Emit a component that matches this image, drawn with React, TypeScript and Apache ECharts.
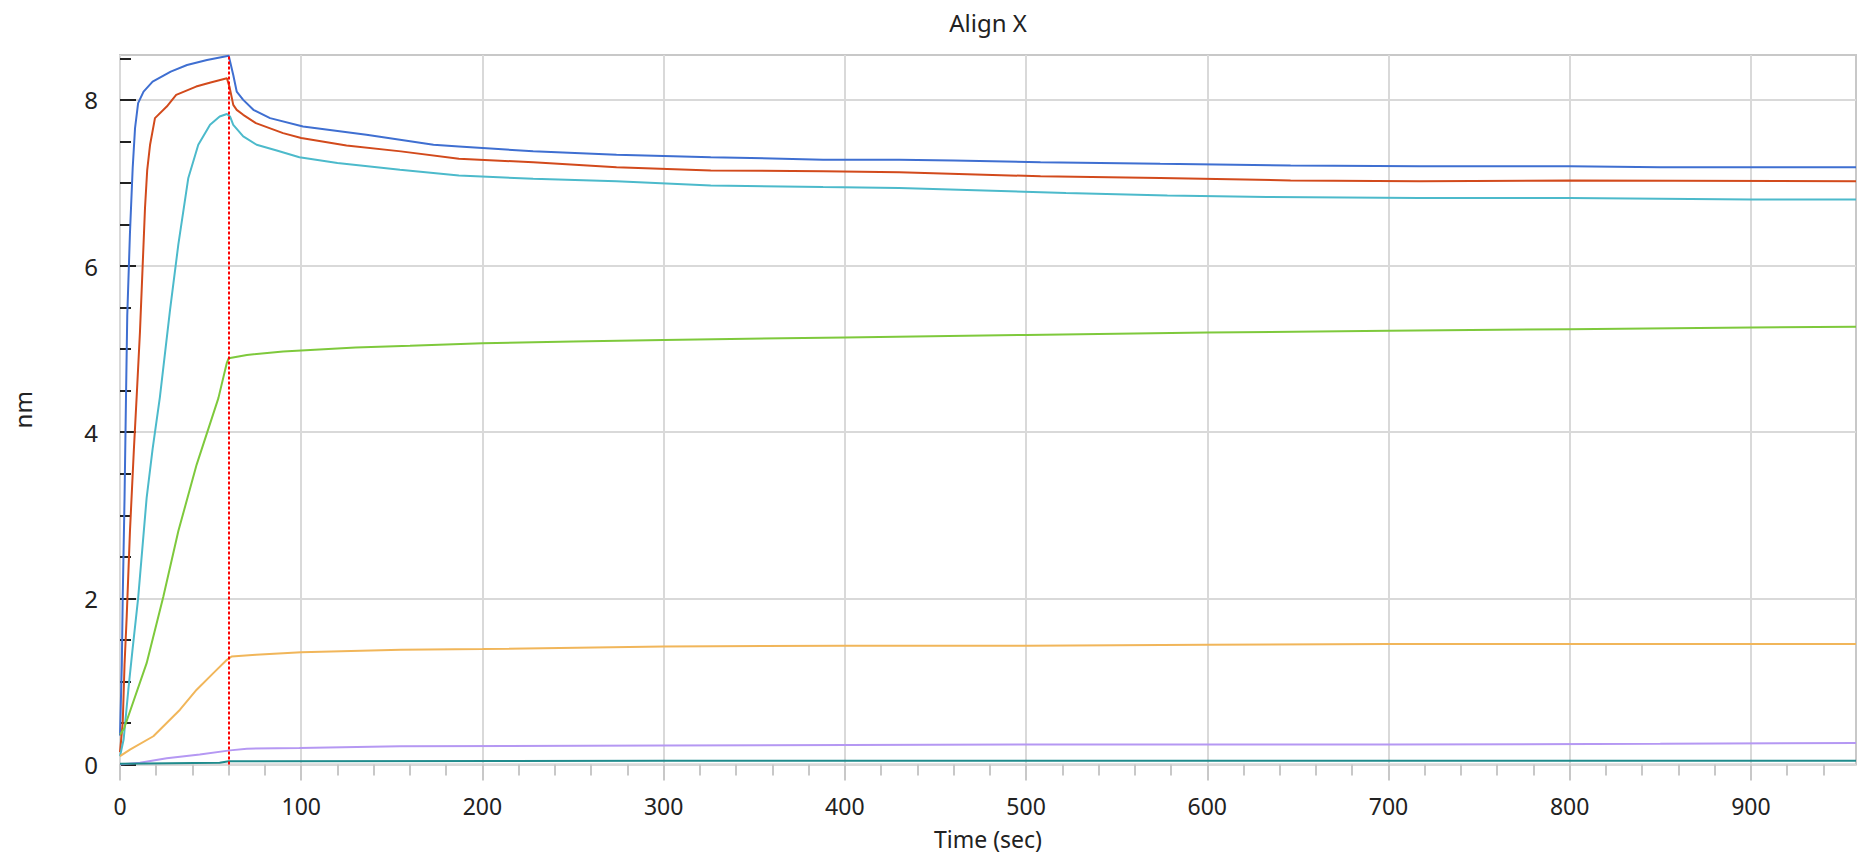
import React, { useEffect, useRef } from "react";
import * as echarts from "echarts";

const chartTitle = "Align X";
const xAxisName = "Time (sec)";
const yAxisName = "nm";
const stepTime = 60;

const xTicks = [0, 100, 200, 300, 400, 500, 600, 700, 800, 900];
const xMinorTicks = [0, 20, 40, 60, 80, 100, 120, 140, 160, 180, 200, 220, 240, 260, 280, 300, 320, 340, 360, 380, 400, 420, 440, 460, 480, 500, 520, 540, 560, 580, 600, 620, 640, 660, 680, 700, 720, 740, 760, 780, 800, 820, 840, 860, 880, 900, 920, 940];
const yTicks = [0, 2, 4, 6, 8];
const yMinorTicks = [0, 0.5, 1, 1.5, 2, 2.5, 3, 3.5, 4, 4.5, 5, 5.5, 6, 6.5, 7, 7.5, 8, 8.5];

const seriesNames = ["S1", "S2", "S3", "S4", "S5", "S6", "S7"];
const seriesColors = ["#3f6fd1", "#d24a1c", "#4cbacb", "#7ec93c", "#f1b65a", "#b598f3", "#1f8b8c"];

const blueData: [number, number][] = [
  [0, 0.35], [1, 1.2], [1.5, 2.0], [2.5, 3.2], [3.3, 4.4], [4, 5.4], [5.5, 6.4], [7, 7.18], [8.3, 7.66], [10, 7.96], [13, 8.1], [18, 8.22], [28, 8.34], [37, 8.42], [48, 8.48], [60, 8.53],
  [62.5, 8.3], [64.4, 8.1], [68, 8.0], [73.6, 7.88], [82.8, 7.78], [101, 7.68], [136, 7.58], [173, 7.46], [187, 7.44], [228, 7.38], [274, 7.34], [326, 7.31], [388, 7.28], [430, 7.28], [460, 7.27], [508, 7.25], [574, 7.23], [646, 7.21], [717, 7.2], [800, 7.2], [850, 7.19], [958, 7.19],
];
const redData: [number, number][] = [
  [0, 0.15], [1.5, 0.5], [2.5, 1.2], [3.7, 1.78], [5.5, 2.81], [7.7, 3.81], [9.2, 4.43], [11, 5.2], [12.5, 6.0], [13.8, 6.7], [15, 7.15], [16.6, 7.46], [19.3, 7.78], [25.8, 7.92], [31, 8.06], [42, 8.16], [50, 8.21], [59, 8.26],
  [60.5, 8.15], [62.5, 7.94], [64.4, 7.88], [68, 7.82], [75, 7.72], [90, 7.6], [100, 7.54], [125, 7.45], [155, 7.38], [187, 7.29], [228, 7.25], [274, 7.19], [326, 7.15], [388, 7.14], [430, 7.13], [508, 7.08], [574, 7.06], [646, 7.03], [717, 7.02], [800, 7.03], [958, 7.02],
];
const cyanData: [number, number][] = [
  [0, 0.1], [2, 0.3], [4.6, 0.9], [7, 1.4], [10, 2.0], [14.7, 3.21], [18, 3.8], [22, 4.42], [27.6, 5.47], [32.2, 6.26], [37.7, 7.06], [43.2, 7.46], [49.7, 7.7], [55, 7.8], [59, 7.83],
  [60.7, 7.8], [62.5, 7.7], [68, 7.56], [75.4, 7.46], [86.5, 7.39], [99, 7.31], [120, 7.24], [154.5, 7.16], [187, 7.09], [228, 7.05], [274, 7.02], [326, 6.97], [388, 6.95], [430, 6.94], [522, 6.88], [578, 6.85], [633, 6.83], [717, 6.82], [800, 6.82], [900, 6.8], [958, 6.8],
];
const greenData: [number, number][] = [
  [0, 0.36], [2.2, 0.43], [14.7, 1.22], [23.9, 2.02], [32.2, 2.81], [42.3, 3.61], [54.3, 4.41], [58.9, 4.83], [60, 4.89],
  [70, 4.93], [90, 4.97], [105, 4.99], [130, 5.02], [160, 5.04], [200, 5.07], [250, 5.09], [300, 5.11], [400, 5.14], [500, 5.17], [600, 5.2], [700, 5.22], [800, 5.24], [900, 5.26], [958, 5.27],
];
const goldData: [number, number][] = [
  [0, 0.1], [5.5, 0.18], [18.4, 0.34], [33.1, 0.66], [42.3, 0.9], [51.5, 1.1], [59, 1.26], [61.6, 1.3],
  [75, 1.32], [100, 1.35], [155, 1.38], [200, 1.39], [300, 1.42], [400, 1.43], [500, 1.43], [600, 1.44], [700, 1.45], [800, 1.45], [958, 1.45],
];
const lavenderData: [number, number][] = [
  [0, 0.0], [11, 0.02], [25.8, 0.075], [44, 0.12], [60.7, 0.17], [70, 0.19], [99, 0.2], [154.5, 0.22], [300, 0.23], [500, 0.24], [700, 0.24], [850, 0.25], [958, 0.26],
];
const tealData: [number, number][] = [
  [0, 0.01], [55, 0.02], [60, 0.04], [300, 0.045], [958, 0.045],
];

const allData = [blueData, redData, cyanData, greenData, goldData, lavenderData, tealData];

const FONT = "Noto Sans";
const TEXT_COLOR = "#222";

export default function App() {
  const ref = useRef<HTMLDivElement>(null);
  useEffect(() => {
    const chart = echarts.init(ref.current!, null, { renderer: "svg" });
    const series: any[] = allData.map((d, i) => ({
      name: seriesNames[i],
      type: "line",
      data: d,
      xAxisIndex: 0,
      yAxisIndex: 0,
      symbol: "none",
      showSymbol: false,
      lineStyle: { width: 2, color: seriesColors[i] },
      itemStyle: { color: seriesColors[i] },
      z: 3,
    }));
    series[0].markLine = {
      silent: true,
      symbol: ["none", "none"],
      label: { show: false },
      lineStyle: { color: "#ff0000", type: [3, 2], width: 2 },
      data: [{ xAxis: stepTime }],
      z: 5,
    };
    chart.setOption({
      animation: false,
      backgroundColor: "#fff",
      textStyle: { fontFamily: FONT },
      graphic: [
        {
          type: "text",
          x: 988,
          y: 22,
          style: {
            text: chartTitle,
            align: "center",
            verticalAlign: "middle",
            fontFamily: FONT,
            fontSize: 24,
            fill: TEXT_COLOR,
          },
        },
      ],
      grid: {
        left: 120,
        right: 8,
        top: 55,
        bottom: 85,
        show: true,
        borderColor: "#c8c8c8",
        borderWidth: 2,
        containLabel: false,
      },
      xAxis: [
        {
          type: "value",
          min: 0,
          max: 958,
          interval: 100,
          position: "bottom",
          axisLine: { show: false },
          axisTick: { show: true, length: 16, lineStyle: { color: "#c8c8c8", width: 2 }, customValues: xTicks },
          axisLabel: {
            margin: 31,
            fontSize: 23,
            lineHeight: 20,
            color: TEXT_COLOR,
            fontFamily: FONT,
            formatter: (v: number) => (xTicks.includes(v) ? String(v) : ""),
          },
          splitLine: { show: true, lineStyle: { color: "#d9d9d9", width: 2 } },
          name: xAxisName,
          nameLocation: "middle",
          nameGap: 64,
          nameTextStyle: { fontSize: 23, lineHeight: 20, color: TEXT_COLOR, fontFamily: FONT },
        },
        {
          type: "value",
          min: 0,
          max: 958,
          interval: 20,
          position: "bottom",
          axisLine: { show: false },
          axisTick: { show: true, length: 11, lineStyle: { color: "#c8c8c8", width: 2 }, customValues: xMinorTicks },
          axisLabel: { show: false },
          splitLine: { show: false },
        },
      ],
      yAxis: [
        {
          type: "value",
          min: 0,
          max: 8.54,
          interval: 2,
          position: "left",
          axisLine: { show: false },
          axisTick: { show: true, inside: true, length: 16, lineStyle: { color: "#222", width: 2 }, customValues: yTicks },
          axisLabel: {
            margin: 22,
            fontSize: 24,
            color: TEXT_COLOR,
            fontFamily: FONT,
            formatter: (v: number) => (yTicks.includes(v) ? String(v) : ""),
          },
          splitLine: { show: true, lineStyle: { color: "#d9d9d9", width: 2 } },
          name: yAxisName,
          nameLocation: "middle",
          nameGap: 86,
          nameTextStyle: { fontSize: 24, color: TEXT_COLOR, fontFamily: FONT },
        },
        {
          type: "value",
          min: 0,
          max: 8.54,
          interval: 0.5,
          position: "left",
          axisLine: { show: false },
          axisTick: { show: true, inside: true, length: 11, lineStyle: { color: "#222", width: 2 }, customValues: yMinorTicks },
          axisLabel: { show: false },
          splitLine: { show: false },
        },
      ],
      series,
    });
    return () => chart.dispose();
  }, []);
  return (
    <div
      ref={ref}
      style={{ position: "fixed", left: 0, top: 0, width: 1864, height: 855, background: "#fff" }}
    />
  );
}
